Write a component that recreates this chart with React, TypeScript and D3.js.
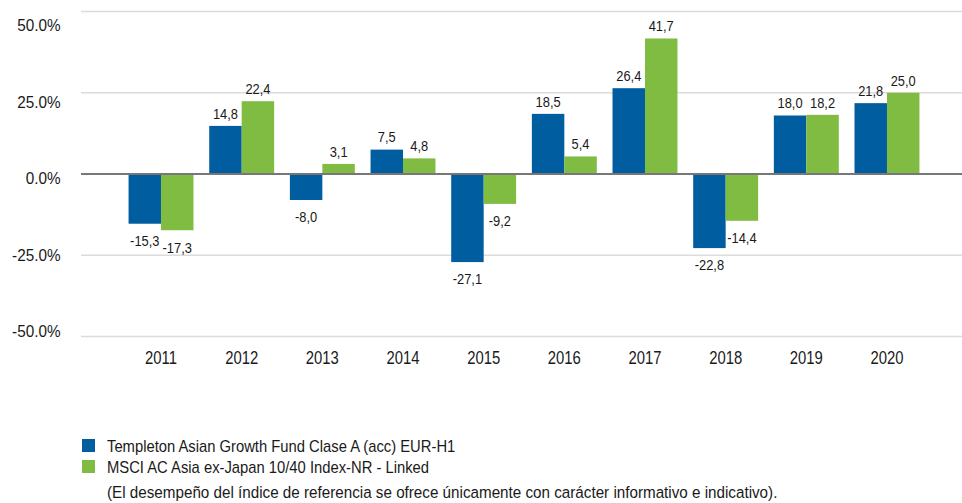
import React from "react";
import * as d3 from "d3";

const years = ["2011","2012","2013","2014","2015","2016","2017","2018","2019","2020"];
const fundValues = [-15.3, 14.8, -8.0, 7.5, -27.1, 18.5, 26.4, -22.8, 18.0, 21.8];
const indexValues = [-17.3, 22.4, 3.1, 4.8, -9.2, 5.4, 41.7, -14.4, 18.2, 25.0];
const yTicks = [50, 25, 0, -25, -50];
const seriesNames = [
  "Templeton Asian Growth Fund Clase A (acc) EUR-H1",
  "MSCI AC Asia ex-Japan 10/40 Index-NR - Linked",
];
const footnote = "(El desempeño del índice de referencia se ofrece únicamente con carácter informativo e indicativo).";

const COLORS = ["#005DA0", "#80BC41"];
const FONT = "'Liberation Sans', Arial, sans-serif";

type TProps = {
  x: number; y: number; sx: number; size: number;
  anchor?: "start" | "middle" | "end"; baseline?: string; children: React.ReactNode;
};
function T({ x, y, sx, size, anchor = "start", baseline = "alphabetic", children }: TProps) {
  return (
    <text
      transform={`translate(${x},${y}) scale(${sx},1)`}
      textAnchor={anchor}
      dominantBaseline={baseline}
      fontSize={size}
      fill="#1a1a1a"
    >
      {children}
    </text>
  );
}

export default function App() {
  const W = 962, H = 503;
  const plotLeft = 81, plotRight = 962;
  const y = d3.scaleLinear().domain([-50, 50]).range([336.5, 11.5]);
  const yLabel = d3.scaleLinear().domain([-50, 50]).range([331, 25]);
  const x = d3.scaleBand<string>().domain(years).range([120.7, 927.3]).paddingInner(0.195).paddingOuter(0.0975);
  const x1 = d3.scaleBand<string>().domain(["f", "i"]).range([0, x.bandwidth()]);
  const series = [fundValues, indexValues];
  const fmt = (v: number) => v.toFixed(1).replace(".", ",");

  return (
    <svg width={W} height={H} style={{ position: "absolute", left: 0, top: 0, background: "#fff" }} fontFamily={FONT}>
      {yTicks.filter(t => t !== 0).map(t => (
        <line key={t} x1={plotLeft} x2={plotRight} y1={y(t)} y2={y(t)} stroke="#dcdcdc" strokeWidth={1.5} />
      ))}
      {yTicks.map(t => (
        <T key={"l" + t} x={60.5} y={yLabel(t)} sx={0.9} size={17} anchor="end" baseline="central">
          {t.toFixed(1) + "%"}
        </T>
      ))}
      {years.map((yr, i) =>
        series.map((vals, s) => {
          const v = vals[i];
          const bx = (x(yr) as number) + (x1(s === 0 ? "f" : "i") as number);
          const bw = x1.bandwidth();
          const top = Math.min(y(v), y(0));
          const h = Math.abs(y(v) - y(0));
          return (
            <g key={yr + s}>
              <rect x={bx} y={top} width={bw} height={h} fill={COLORS[s]} />
              <T
                x={bx + bw / 2}
                y={v >= 0 ? y(v) - 12.5 : y(v) + 17}
                sx={0.86}
                size={15}
                anchor="middle"
                baseline="central"
              >
                {fmt(v)}
              </T>
            </g>
          );
        })
      )}
      <line x1={plotLeft} x2={plotRight} y1={y(0)} y2={y(0)} stroke="#777" strokeWidth={2} />
      {years.map(yr => (
        <T key={"x" + yr} x={(x(yr) as number) + x.bandwidth() / 2} y={357} sx={0.825} size={18} anchor="middle" baseline="central">
          {yr}
        </T>
      ))}
      {seriesNames.map((n, i) => (
        <g key={n}>
          <rect x={82} y={439 + i * 21} width={13} height={13} fill={COLORS[i]} />
          <T x={107} y={451.5 + i * 21} sx={0.87} size={17}>{n}</T>
        </g>
      ))}
      <T x={107} y={498} sx={0.895} size={17}>{footnote}</T>
    </svg>
  );
}
